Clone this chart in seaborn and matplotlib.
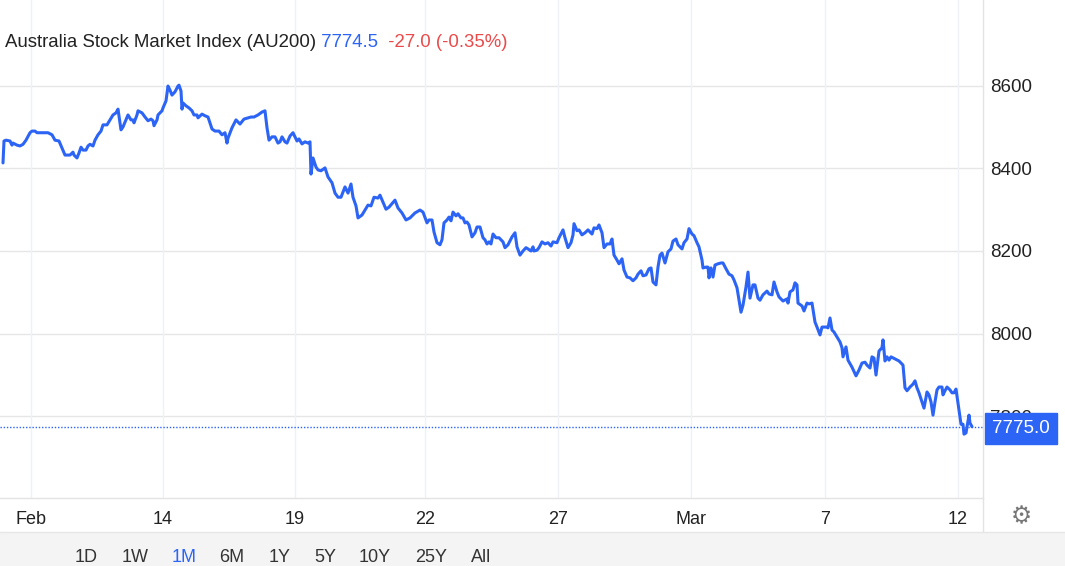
import numpy as np
import pandas as pd
import matplotlib
matplotlib.use("Agg")
import matplotlib.pyplot as plt
import matplotlib.lines as mlines
import matplotlib.patches as mpatches
import seaborn as sns

# ---------------- data ----------------
# trading-time position of each sample and the AU200 index level
period_a = [3, 4, 6, 10, 12, 13, 17, 20, 23, 26, 30, 32, 35, 37, 42, 48, 52, 55, 59, 62,
            65, 70, 73, 74, 77, 79, 81, 83, 86, 88, 90, 93, 95, 98, 101, 103, 107, 110, 113, 116,
            118, 121, 123, 126, 128, 131, 133, 134, 137, 138, 142, 145, 148, 151, 153, 154, 157, 158, 162, 163,
            166, 168, 170, 172, 175, 178, 179, 181, 182, 183, 186, 189, 192, 194, 197, 198]
value_a = [8413, 8466, 8468, 8466, 8456, 8461, 8456, 8454, 8458, 8468, 8486, 8490, 8490, 8486, 8486, 8486, 8481, 8468, 8466, 8449,
           8432, 8432, 8439, 8432, 8425, 8437, 8451, 8444, 8444, 8454, 8458, 8454, 8468, 8481, 8490, 8505, 8505, 8517, 8529, 8534,
           8543, 8493, 8500, 8517, 8529, 8517, 8517, 8510, 8529, 8539, 8534, 8524, 8515, 8519, 8515, 8503, 8517, 8529, 8539, 8546,
           8563, 8599, 8589, 8577, 8585, 8599, 8601, 8587, 8543, 8558, 8551, 8546, 8539, 8529, 8529, 8522]

period_b = [202, 205, 208, 212, 215, 219, 222, 225, 227, 228, 232, 236, 240, 244, 248, 251, 254, 258, 262, 265,
            267, 269, 272, 275, 278, 280, 282, 285, 287, 290, 293, 297, 299, 302, 305, 308, 310, 311, 313, 316,
            318, 321, 325, 328, 332, 335, 338, 341, 345, 348, 351, 353, 356, 358, 362, 365, 368, 371, 374, 378,
            380, 383, 386, 389]
value_b = [8531, 8527, 8524, 8495, 8490, 8490, 8481, 8486, 8461, 8473, 8498, 8517, 8507, 8519, 8522, 8524, 8524, 8529, 8536, 8539,
           8498, 8468, 8476, 8476, 8461, 8464, 8476, 8464, 8461, 8478, 8486, 8466, 8471, 8459, 8464, 8461, 8464, 8386, 8425, 8403,
           8396, 8394, 8401, 8379, 8365, 8340, 8330, 8330, 8355, 8340, 8362, 8330, 8309, 8280, 8287, 8299, 8311, 8309, 8330, 8328,
           8335, 8318, 8301, 8306]

period_c = [395, 398, 402, 406, 410, 415, 420, 423, 427, 429, 432, 434, 437, 440, 442, 444, 447, 449, 451, 453,
            456, 458, 461, 463, 465, 467, 469, 472, 475, 477, 480, 483, 485, 487, 489, 491, 493, 496, 499, 503,
            505, 508, 512, 515, 517, 520, 523, 526, 528, 531, 533, 534, 537, 539, 542, 545, 548, 551, 553, 557,
            559, 563, 565, 568, 571, 573, 574, 577, 579, 582, 585]
value_c = [8323, 8304, 8292, 8275, 8280, 8292, 8299, 8294, 8268, 8275, 8275, 8246, 8220, 8215, 8227, 8268, 8275, 8282, 8273, 8294,
           8285, 8290, 8280, 8280, 8268, 8270, 8263, 8234, 8244, 8258, 8258, 8232, 8227, 8217, 8222, 8217, 8241, 8232, 8232, 8222,
           8208, 8215, 8234, 8244, 8210, 8190, 8200, 8208, 8205, 8200, 8210, 8200, 8202, 8208, 8222, 8217, 8220, 8212, 8222, 8220,
           8232, 8251, 8232, 8208, 8220, 8239, 8266, 8249, 8251, 8239, 8244]

period_d = [588, 592, 594, 597, 599, 602, 604, 607, 610, 612, 614, 617, 619, 622, 624, 627, 630, 633, 636, 638,
            641, 643, 646, 649, 651, 653, 656, 658, 660, 662, 665, 668, 671, 673, 676, 678, 682, 684, 687, 689,
            692, 694, 697, 699, 702, 703, 706, 708, 709, 711, 713, 715, 718, 721, 723, 726, 729, 732, 734, 737,
            739, 741, 743, 746, 748, 750, 753, 755, 758, 760, 763, 767, 769, 772, 774, 777, 779]
value_d = [8251, 8241, 8256, 8254, 8263, 8244, 8208, 8217, 8217, 8229, 8190, 8178, 8169, 8181, 8154, 8137, 8135, 8128, 8135, 8144,
           8152, 8140, 8142, 8157, 8159, 8125, 8118, 8161, 8190, 8195, 8171, 8198, 8205, 8224, 8229, 8215, 8205, 8220, 8229, 8254,
           8241, 8237, 8220, 8210, 8178, 8159, 8161, 8161, 8135, 8159, 8137, 8166, 8169, 8171, 8171, 8157, 8144, 8140, 8130, 8111,
           8081, 8052, 8069, 8113, 8149, 8086, 8118, 8118, 8086, 8081, 8094, 8103, 8096, 8094, 8125, 8101, 8089]

period_e = [783, 787, 788, 790, 793, 795, 797, 798, 802, 804, 807, 809, 812, 815, 817, 820, 822, 827, 828, 830,
            832, 834, 837, 840, 842, 843, 846, 848, 852, 856, 859, 862, 865, 867, 870, 872, 874, 876, 879, 882,
            883, 885, 887, 889, 891, 895, 899, 903, 905, 907, 910, 913, 915, 917, 919, 922, 924, 927, 929, 931,
            933, 935, 937, 939, 942, 943, 945, 947, 950, 952, 954, 956, 958, 961, 963, 964, 966, 967, 969, 970, 972]
value_e = [8079, 8084, 8074, 8101, 8106, 8123, 8118, 8074, 8067, 8055, 8074, 8072, 8074, 8028, 8016, 7997, 8016, 8016, 8014, 8038,
           8009, 8004, 7992, 7980, 7966, 7944, 7968, 7936, 7919, 7898, 7912, 7929, 7931, 7924, 7917, 7944, 7941, 7900, 7958, 7966,
           7985, 7934, 7944, 7936, 7944, 7939, 7934, 7924, 7869, 7862, 7871, 7878, 7886, 7869, 7857, 7835, 7820, 7859, 7852, 7835,
           7803, 7835, 7864, 7871, 7871, 7852, 7862, 7871, 7864, 7857, 7857, 7866, 7832, 7781, 7781, 7757, 7760, 7774, 7803, 7784, 7775]

x_tick_periods = [31, 163, 295, 425, 558, 691, 825, 958]
x_tick_labels = ["Feb", "14", "19", "22", "27", "Mar", "7", "12"]
y_ticks = [7800, 8000, 8200, 8400, 8600]
last_value = 7775.0
title_name = "Australia Stock Market Index (AU200)"
title_price = "7774.5"
title_change = "-27.0 (-0.35%)"
range_buttons = ["1D", "1W", "1M", "6M", "1Y", "5Y", "10Y", "25Y", "All"]
active_range = "1M"

# ---------------- style ----------------
BLUE = "#2c64f6"
RED = "#ea4a4a"
W, H = 1065, 566

sns.set_theme(style="white")
plt.rcParams["font.family"] = ["Liberation Sans", "DejaVu Sans"]

fig = plt.figure(figsize=(W / 100, H / 100), dpi=100)
fig.patch.set_facecolor("white")

ax_left, ax_right, ax_top, ax_bottom = 0, 983, 0, 498
ax = fig.add_axes([ax_left / W, 1 - ax_bottom / H, (ax_right - ax_left) / W, (ax_bottom - ax_top) / H])

df = pd.DataFrame({
    "period": period_a + period_b + period_c + period_d + period_e,
    "value": value_a + value_b + value_c + value_d + value_e,
})

sns.lineplot(data=df, x="period", y="value", ax=ax, color=BLUE, linewidth=2.2,
             zorder=4, estimator=None, sort=False)

ax.set_xlim(0, 983)
ax.set_ylim(7602.6, 8807)

# grid
for yt in y_ticks:
    ax.axhline(yt, color="#e6e6e6", lw=1.0, zorder=1)
for xt in x_tick_periods:
    ax.axvline(xt, color="#eef2f8", lw=1.0, zorder=1)

# last value dotted line
ax.axhline(last_value, color=BLUE, lw=1.0, ls=(0, (1, 1.3)), zorder=3)

for s in ["top", "left", "right"]:
    ax.spines[s].set_visible(False)
ax.spines["bottom"].set_color("#e3e3e3")
ax.spines["bottom"].set_linewidth(1.0)

ax.set_xlabel("")
ax.set_ylabel("")
ax.set_xticks(x_tick_periods)
ax.set_xticklabels(x_tick_labels, fontsize=13, color="#222222")
ax.tick_params(axis="x", length=0, pad=9)

ax.yaxis.tick_right()
ax.set_yticks(y_ticks)
ax.set_yticklabels([str(v) for v in y_ticks], fontsize=13.5, color="#222222")
ax.tick_params(axis="y", length=0, pad=5)

# price tag for the last value (covers most of the 7800 label, as in the source)
ax.annotate(f"{last_value:.1f}", xy=(1.0, last_value), xycoords=("axes fraction", "data"),
            xytext=(6.6, -1.2), textcoords="offset points", ha="left", va="center",
            fontsize=13.5, color="white", annotation_clip=False, zorder=10,
            bbox=dict(boxstyle="square,pad=0.36", fc=BLUE, ec=BLUE))

# right separator line
fig.add_artist(mlines.Line2D([983 / W, 983 / W], [1 - 532 / H, 1], color="#e3e3e3", lw=1.0))

# bottom range-selector panel
fig.add_artist(mpatches.Rectangle((0, 0), 1, 1 - 532 / H, transform=fig.transFigure,
                                  facecolor="#f4f4f4", edgecolor="none", zorder=0))
fig.add_artist(mlines.Line2D([0, 1], [1 - 532 / H, 1 - 532 / H], color="#e6e6e6", lw=1.0))
button_x = [86, 135, 184, 232, 280, 325, 375, 431, 481]
for lbl, bx in zip(range_buttons, button_x):
    fig.text(bx / W, 1 - 557 / H, lbl, ha="center", va="center", fontsize=13,
             color=BLUE if lbl == active_range else "#333333")

# gear icon
fig.text(1021 / W, 1 - 516 / H, "\u2699", ha="center", va="center", fontsize=17,
         color="#777777", family="DejaVu Sans")

# title with coloured price pieces
t1 = fig.text(5 / W, 1 - 42.5 / H, title_name, ha="left", va="center", fontsize=13.4, color="#222222")
a2 = ax.annotate(" " + title_price, xy=(1, 0), xycoords=t1, ha="left", va="bottom",
                 fontsize=13.4, color=BLUE, annotation_clip=False)
a3 = ax.annotate("  " + title_change, xy=(1, 0), xycoords=a2, ha="left", va="bottom",
                 fontsize=13.4, color=RED, annotation_clip=False)

fig.savefig("out.png", dpi=100)
